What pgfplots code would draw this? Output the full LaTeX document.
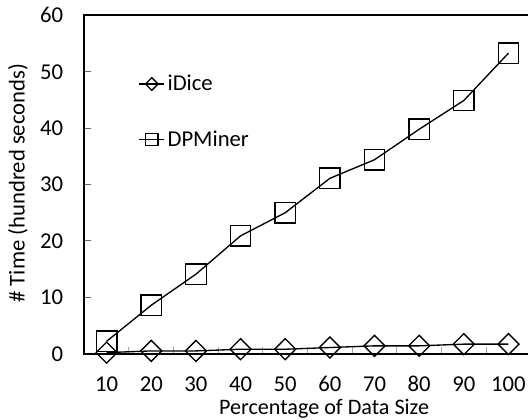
\documentclass[border=0pt]{standalone}
\usepackage{pgfplots}
\pgfplotsset{compat=1.18}
\usepackage{fontspec}
\setmainfont{Carlito}
\begin{document}
\begin{tikzpicture}
\begin{axis}[
 at={(0,0)}, anchor=south west, scale only axis,
 width=334.9pt, height=253.8pt,
 xmin=5, xmax=105, ymin=0, ymax=60,
 xtick={10,20,...,100}, ytick={0,10,...,60},
 minor xtick={15,25,...,95},
 xtick pos=bottom, ytick pos=left, tick align=inside,
 major x tick style={draw=none},
 minor x tick style={black!35, line width=0.8pt},
 minor tick length=5pt, major tick length=5pt,
 major y tick style={black!60, line width=0.8pt},
 axis line style={line width=1.4pt},
 /pgf/number format/assume math mode=true,
 ticklabel style={font=\fontsize{17}{20}\selectfont, inner sep=0pt},
 xticklabel style={anchor=north, yshift=-16.8pt},
 yticklabel style={anchor=east, xshift=-15.75pt},
 xlabel={Percentage of Data Size},
 ylabel={\# Time (hundred seconds)},
 every axis x label/.style={at={(axis description cs:0.537,0)}, anchor=base, yshift=-45.6pt, inner sep=0pt, font=\fontsize{16.6}{20}\selectfont},
 every axis y label/.style={at={(axis description cs:-0.1484,0.504)}, rotate=90, anchor=center, inner sep=0pt, font=\fontsize{17}{20}\selectfont},
 clip=false,
 legend style={draw=none, fill=none, at={(axis description cs:0.121,0.715)}, anchor=west,
   font=\fontsize{17}{20}\selectfont, row sep=24.5pt, inner sep=0pt},
 legend cell align=left,
 legend image code/.code={\draw[#1, every mark/.append style={scale=0.6}, mark repeat=2, mark phase=2] plot coordinates {(0pt,0pt) (9.4pt,0pt) (18.75pt,0pt)};},
]
\addplot[black, line width=1.0pt, mark=square, mark size=5.57pt, mark options={rotate=45, solid, fill=white}]
 coordinates {(10,0.2)(20,0.5)(30,0.5)(40,0.8)(50,0.8)(60,1.1)(70,1.4)(80,1.4)(90,1.7)(100,1.7)};
\addlegendentry{iDice}
\addplot[black, line width=1.0pt, mark=square, mark size=7.7pt, mark options={solid}]
 coordinates {(10,2.2)(20,8.6)(30,14.1)(40,20.9)(50,25.0)(60,31.1)(70,34.4)(80,39.8)(90,44.9)(100,53.3)};
\addlegendentry{DPMiner}
\end{axis}
\pgfresetboundingbox
\path (-63.2pt,-49pt) rectangle (332.8pt,265.3pt);
\end{tikzpicture}
\end{document}
